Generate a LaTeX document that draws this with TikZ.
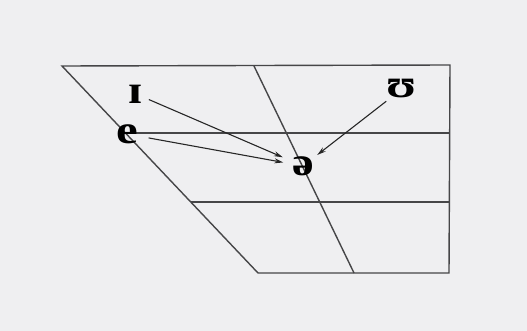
\documentclass[tikz,border=0pt]{standalone}
\usepackage{fontspec}
\setmainfont{Liberation Serif}
\usetikzlibrary{arrows.meta}
\definecolor{bg}{RGB}{239,239,241}
\definecolor{frameline}{RGB}{70,70,72}
\newcommand{\ipasym}[1]{\scalebox{1.22}[1]{#1}}
\tikzset{
  frame/.style={draw=frameline, line width=1.4pt, line join=miter},
  sym/.style={font=\fontsize{40}{40}\selectfont\bfseries, inner sep=0pt, text=black},
  arr/.style={draw=black!85, line width=1.1pt, -{Stealth[length=9pt,width=5pt]}}
}
\begin{document}
\begin{tikzpicture}[x=1pt,y=-1pt]
\fill[bg] (0,0) rectangle (527,331);
\useasboundingbox (0,0) rectangle (527,331);
% corners
\coordinate (TL) at (62,66);
\coordinate (TR) at (450,65);
\coordinate (BR) at (449,273);
\coordinate (BL) at (258,273);
\coordinate (MT) at (254,66);
\coordinate (MB) at (354,273);
\coordinate (H1L) at (125,133);
\coordinate (H1R) at (450,133);
\coordinate (H2L) at (191,202);
\coordinate (H2R) at (449,202);
\draw[frame] (TL) -- (TR) -- (BR) -- (BL) -- cycle;
\draw[frame] (MT) -- (MB);
\draw[frame] (H1L) -- (H1R);
\draw[frame] (H2L) -- (H2R);
% symbols
\node[sym] (I) at (136,94) {\ipasym{ɪ}};
\node[sym] (E) at (127,134) {\ipasym{e}};
\node[sym] (U) at (402,89) {\ipasym{ʊ}};
\node[sym] (S) at (303,166) {\ipasym{ə}};
% arrows
\draw[arr, shorten <=14pt, shorten >=22pt] (I.center) -- (S.center);
\draw[arr, shorten <=22pt, shorten >=20pt] (E.center) -- (S.center);
\draw[arr, shorten <=20pt, shorten >=18pt] (U.center) -- (S.center);
\end{tikzpicture}
\end{document}
